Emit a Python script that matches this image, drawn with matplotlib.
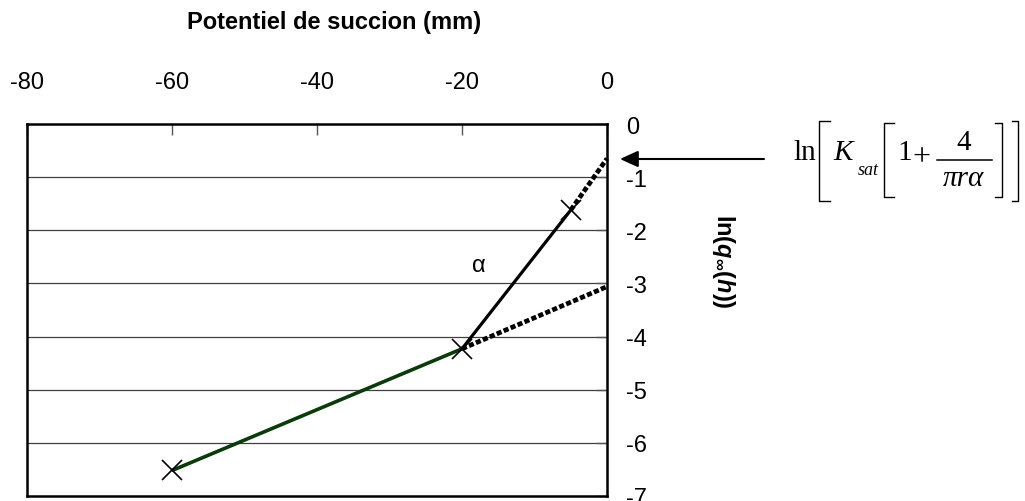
import matplotlib
matplotlib.use("Agg")
import matplotlib.pyplot as plt
from matplotlib.lines import Line2D

plt.rcParams['font.family'] = ['Liberation Sans', 'DejaVu Sans']
plt.rcParams['mathtext.fontset'] = 'custom'
plt.rcParams['mathtext.rm'] = 'Liberation Sans:bold'
plt.rcParams['mathtext.bf'] = 'Liberation Sans:bold'
plt.rcParams['mathtext.it'] = 'Liberation Sans:italic:bold'

# Data
x_ticks = [-80, -60, -40, -20, 0]
y_ticks = [0, -1, -2, -3, -4, -5, -6, -7]
pts_x = [-60, -20, -5]
pts_y = [-6.52, -4.23, -1.62]
green_x = [-60, -20]
green_y = [-6.52, -4.23]
solid_x = [-20, -5]
solid_y = [-4.23, -1.62]
dot1_x = [-5, 0]
dot1_y = [-1.62, -0.65]
dot2_x = [-20, 0]
dot2_y = [-4.23, -3.06]

W, H = 1025, 502
fig = plt.figure(figsize=(W / 100, H / 100), dpi=100)
ax = fig.add_axes([27 / W, (H - 497) / H, 580 / W, 372 / H])

ax.set_xlim(-80, 0)
ax.set_ylim(-7, 0)

# gridlines
for yv in y_ticks[1:-1]:
    ax.axhline(yv, color='#404040', lw=0.9, zorder=1)

ax.plot(green_x, green_y, color='#0b3a0b', lw=2.6, zorder=3, solid_capstyle='butt')
ax.plot(solid_x, solid_y, color='black', lw=2.3, zorder=3, solid_capstyle='butt')
ax.plot(dot1_x, dot1_y, color='black', lw=3.4, linestyle=(0, (1.1, 0.5)), zorder=3, clip_on=False)
ax.plot(dot2_x, dot2_y, color='black', lw=3.4, linestyle=(0, (1.1, 0.5)), zorder=3, clip_on=False)
ax.plot(pts_x, pts_y, linestyle='none', marker='x', ms=14, mew=1.2, color='black', zorder=4)

ax.text(-17.7, -2.65, 'α', fontsize=17, ha='center', va='center')

ax.xaxis.tick_top()
ax.set_xticks(x_ticks)
ax.set_xticklabels([str(v) for v in x_ticks])
ax.yaxis.tick_right()
ax.set_yticks(y_ticks)
ax.set_yticklabels([str(v) for v in y_ticks])
ax.tick_params(axis='x', direction='in', length=8, width=1, color='#555555',
               labelsize=17, pad=22)
ax.tick_params(axis='y', direction='in', length=8, width=1, color='#555555',
               labelsize=17, pad=14)
for lab in ax.get_yticklabels():
    lab.set_horizontalalignment('left')
for s in ax.spines.values():
    s.set_linewidth(1.8)
    s.set_color('black')

fig.text(334 / W, 1 - 22 / H, 'Potentiel de succion (mm)', fontsize=17,
         fontweight='bold', ha='center', va='center')

fig.text(723 / W, 1 - 261 / H, r'$\mathrm{ln(}q_{\infty}\mathrm{(}h\mathrm{))}$', fontsize=17,
         rotation=-90, ha='center', va='center')

ax.annotate('', xy=(620, H - 160), xycoords='figure pixels',
            xytext=(764, H - 160), textcoords='figure pixels',
            arrowprops=dict(arrowstyle='-|>,head_length=1.1,head_width=0.5',
                            color='black', lw=1.5, shrinkA=0, shrinkB=0))

# Formula ln[K_sat[1 + 4/(pi r alpha)]] built from pieces (pixel positions from top-left)
def ftxt(x, y, s, **kw):
    fig.text(x / W, 1 - y / H, s, family='Liberation Serif', **kw)

def fline(xs, ys, lw=1.0):
    fig.add_artist(Line2D([v / W for v in xs], [1 - v / H for v in ys],
                          transform=fig.transFigure, color='black', lw=lw))

ftxt(793, 160, 'ln', fontsize=21, va='baseline', ha='left')
ftxt(833, 160, 'K', fontsize=21, style='italic', va='baseline', ha='left')
ftxt(858, 175, 'sat', fontsize=13, style='italic', va='baseline', ha='left')
ftxt(897, 160, '1', fontsize=21, va='baseline', ha='left')
ftxt(921, 165, '+', fontsize=23, va='baseline', ha='center')
ftxt(964, 150, '4', fontsize=21, va='baseline', ha='center')
ftxt(963, 186, 'πrα', fontsize=21, style='italic', va='baseline', ha='center')
fline([937, 992], [161, 161], lw=1.1)
# outer brackets
fline([830, 819, 819, 830], [122, 122, 202, 202])
fline([1012, 1018, 1018, 1012], [122, 122, 202, 202])
# inner brackets
fline([894, 884, 884, 894], [124, 124, 198, 198])
fline([995, 1002, 1002, 995], [124, 124, 198, 198])

fig.savefig('out.png', dpi=100)
